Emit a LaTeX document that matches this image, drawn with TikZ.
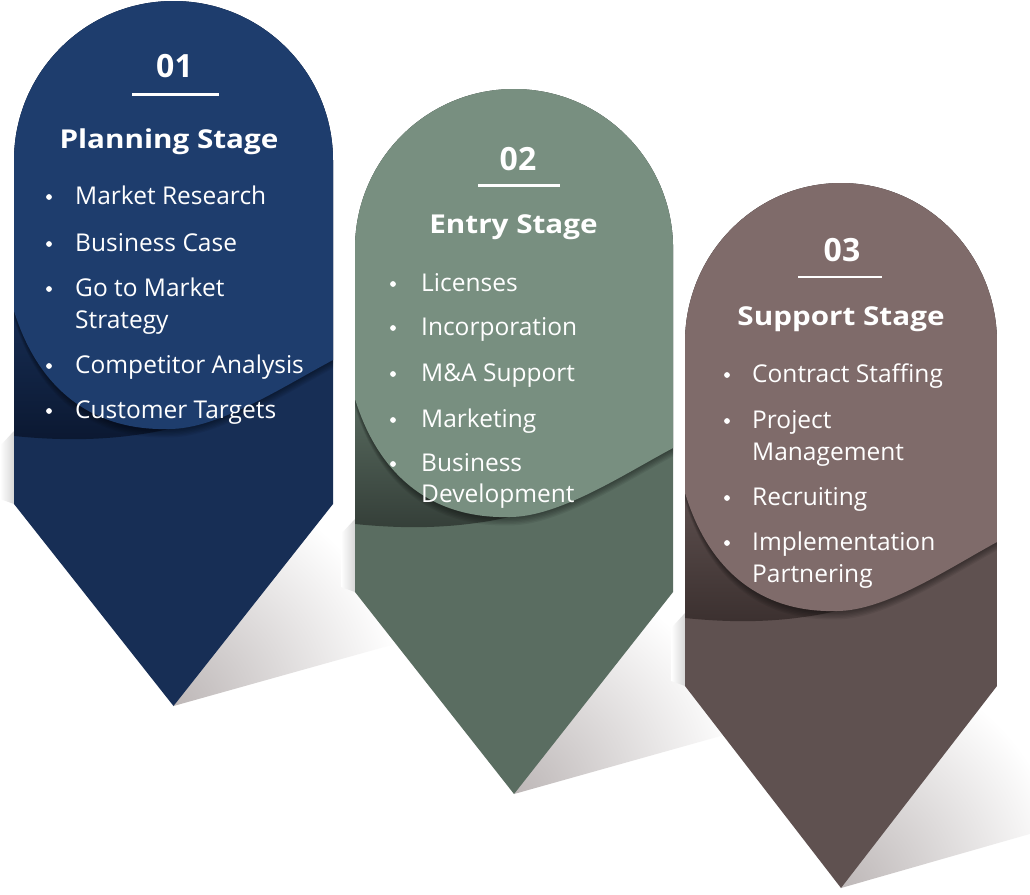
\documentclass[tikz,border=0pt]{standalone}
\usepackage{fontspec}
\setmainfont{Open Sans}
\definecolor{bluelight}{HTML}{1E3D6D}
\definecolor{bluelow}{HTML}{172E55}
\definecolor{bluedark}{HTML}{0B1831}
\definecolor{greenlight}{HTML}{788F80}
\definecolor{greenlow}{HTML}{5A6D61}
\definecolor{greendark}{HTML}{343E38}
\definecolor{brownlight}{HTML}{7F6B6A}
\definecolor{brownlow}{HTML}{5F5150}
\definecolor{browndark}{HTML}{3B302F}
\definecolor{castshadow}{HTML}{BDB7B7}
\tikzset{
  num/.style={text=white, anchor=base, inner sep=0pt, font=\bfseries\fontsize{32}{32}\selectfont},
  ttl/.style={text=white, anchor=base, inner sep=0pt, font=\bfseries\fontsize{26}{26}\selectfont},
  item/.style={text=white, anchor=base west, inner sep=0pt, font=\fontsize{24.5}{26}\selectfont},
  rule/.style={white, line width=2.6pt},
  bul/.style={fill=white},
}
\newcommand{\wide}[1]{\scalebox{1.14}[1]{#1}}
% pin outline in local coordinates
\def\pinpath{(0,-159.5) arc[start angle=180,end angle=0,radius=159.5] -- (319,-503) -- (159.5,-705) -- (0,-503) -- cycle}
\def\lightpath{(-5,5) -- (-5,-300) -- (0,-310) .. controls (25,-390) and (80,-430) .. (155,-428) .. controls (205,-428) and (270,-385) .. (319,-359) -- (325,-350) -- (325,5) -- cycle}
\newcommand{\drawpin}[6]{%
\begin{scope}[shift={(#1,-#2)}, xscale=#3]
  % cast shadow at the tip
  \begin{scope}
    \clip (159.5,-705) -- ++(150,230) -- ++(100,-160) -- cycle;
    \shade[inner color=castshadow, outer color=white] (159.5,-705) circle (230);
  \end{scope}
  % shadow on the left of the lower part
  \begin{scope}
    \clip (-14,-445) -- (0,-430) -- (0,-503) -- (-14,-498) -- cycle;
    \shade[left color=white, right color=black!16] (-14,-425) rectangle (0,-505);
  \end{scope}
  \fill[#5] \pinpath;
  \begin{scope}
    \clip \pinpath;
    \shade[top color=#5, bottom color=#6] (-5,-300) -- (-5,-435) -- (0,-435) .. controls (60,-441) and (130,-441) .. (210,-412) -- (210,-300) -- cycle;
    \foreach \k in {1,...,6} {
      \fill[black, opacity=0.07, yshift=-\k*1.4pt] \lightpath;
    }
    \fill[#4] \lightpath;
  \end{scope}
\end{scope}}
\begin{document}
\begin{tikzpicture}[x=1pt, y=1pt]
\useasboundingbox (0,0) rectangle (1030,-894);
\fill[white] (0,0) rectangle (1030,-894);

\drawpin{14}{1}{1}{bluelight}{bluelow}{bluedark}
\drawpin{355}{89}{0.997}{greenlight}{greenlow}{greendark}
\drawpin{685}{183}{0.978}{brownlight}{brownlow}{browndark}

% ---------- stage 1
\node[num] (n1) at (174.5,-77) {01};
\draw[rule] (132,-94.5) -- (219,-94.5);
\node[ttl] (t1) at (169,-148) {\wide{Planning Stage}};
\foreach \y in {204,251,296,373,418} \fill[bul] (49,-\y+7) circle (2.9);
\node[item] (a1) at (75,-204) {Market Research};
\node[item] (a2) at (75,-251) {Business Case};
\node[item] (a3) at (75,-296) {Go to Market};
\node[item] (a3b) at (75,-328) {Strategy};
\node[item] (a4) at (75,-373) {Competitor Analysis};
\node[item] (a5) at (75,-418) {Customer Targets};

% ---------- stage 2
\node[num] (n2) at (518,-170) {02};
\draw[rule] (478,-185.5) -- (560,-185.5);
\node[ttl] (t2) at (513.5,-233) {\wide{Entry Stage}};
\foreach \y in {291,335,381,427,471} \fill[bul] (393,-\y+7) circle (2.9);
\node[item] (b1) at (421,-291) {Licenses};
\node[item] (b2) at (421,-335) {Incorporation};
\node[item] (b3) at (421,-381) {M\&A Support};
\node[item] (b4) at (421,-427) {Marketing};
\node[item] (b5) at (421,-471) {Business};
\node[item] (b5b) at (421,-502) {Development};

% ---------- stage 3
\node[num] (n3) at (842,-261) {03};
\draw[rule] (798,-277) -- (882,-277);
\node[ttl] (t3) at (841,-325) {\wide{Support Stage}};
\foreach \y in {382,428,505,550} \fill[bul] (727,-\y+7) circle (2.9);
\node[item] (c1) at (752,-382) {Contract Staffing};
\node[item] (c2) at (752,-428) {Project};
\node[item] (c2b) at (752,-460) {Management};
\node[item] (c3) at (752,-505) {Recruiting};
\node[item] (c4) at (752,-550) {Implementation};
\node[item] (c4b) at (752,-582) {Partnering};
\end{tikzpicture}
\end{document}
